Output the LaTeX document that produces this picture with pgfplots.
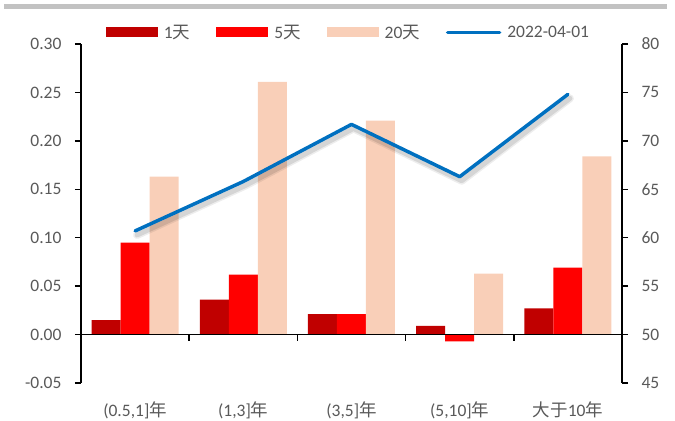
\documentclass[border=0pt]{standalone}
\usepackage{fontspec}
\setmainfont{Carlito}
\newfontfamily\cjk{Noto Sans CJK SC}
\usepackage{pgfplots}
\usepackage{pgfplotstable}
\pgfplotsset{compat=1.18}
\definecolor{dred}{HTML}{C00000}
\definecolor{bred}{HTML}{FF0000}
\definecolor{peach}{HTML}{F9CFB8}
\definecolor{lblue}{HTML}{0070C0}
\definecolor{txt}{HTML}{595959}
\pgfplotsset{barleg/.style={legend image code/.code={\fill[##1] (0bp,-5bp) rectangle (52bp,5bp);}}}

\pgfplotstableread{
x d1 d5 d20 line
0 0.015 0.095 0.163 60.7
1 0.036 0.062 0.261 65.8
2 0.021 0.021 0.221 71.7
3 0.009 -0.007 0.063 66.3
4 0.027 0.069 0.184 74.8
}\data

\newcommand{\lbl}{\fontsize{17.5bp}{20bp}\selectfont}
\begin{document}
\begin{tikzpicture}
\useasboundingbox (-81bp,-38bp) rectangle (594bp,383bp);
\fill[black!24] (-77bp,374bp) rectangle (586bp,379bp);
\begin{axis}[
  at={(0,0)}, anchor=south west, scale only axis,
  width=541bp, height=339bp,
  xmin=-0.5, xmax=4.5, ymin=-0.05, ymax=0.30,
  axis y line*=left, axis x line*=bottom,
  x axis line style={draw=none},
  xtick=data, xtick style={draw=none},
  xticklabels={{(0.5,1]{\cjk 年}},{(1,3]{\cjk 年}},{(3,5]{\cjk 年}},{(5,10]{\cjk 年}},{{\cjk 大于}10{\cjk 年}}},
  x tick label style={yshift=-9bp},
  ytick={-0.05,0,0.05,0.10,0.15,0.20,0.25,0.30},
  y tick label style={/pgf/number format/fixed, /pgf/number format/fixed zerofill, /pgf/number format/precision=2, xshift=-10bp},
  /pgf/number format/assume math mode=true,
  tick align=outside, major tick length=6bp,
  y axis line style={line width=1.5bp},
  ytick style={line width=1.5bp, black},
  tick label style={font=\lbl, text=txt},
  ybar=0pt, bar width=29bp,
  legend columns=4,
  legend style={draw=none, fill=none, at={(0.5,1)}, anchor=center, yshift=11.5bp, xshift=-3bp,
    font=\lbl, text=txt, inner xsep=0pt,
    /tikz/every odd column/.append style={column sep=4bp},
    /tikz/every even column/.append style={column sep=24bp}},
  clip=false,
]
\addplot[fill=dred, draw=none, barleg] table[x=x, y=d1] {\data};
\addlegendentry{1{\cjk 天}}
\addplot[fill=bred, draw=none, barleg] table[x=x, y=d5] {\data};
\addlegendentry{5{\cjk 天}}
\addplot[fill=peach, draw=none, barleg] table[x=x, y=d20] {\data};
\addlegendentry{20{\cjk 天}}
\addlegendimage{legend image code/.code={\draw[lblue, line width=3.5bp, line cap=round] (0bp,0bp) -- (52bp,0bp);}}
\addlegendentry{2022-04-01}
\draw[line width=1.5bp] (axis cs:-0.5,0) -- (axis cs:4.5,0);
\draw[line width=1.5bp] (axis cs:0.5,0) -- ([yshift=-6bp]axis cs:0.5,0);
\draw[line width=1.5bp] (axis cs:1.5,0) -- ([yshift=-6bp]axis cs:1.5,0);
\draw[line width=1.5bp] (axis cs:2.5,0) -- ([yshift=-6bp]axis cs:2.5,0);
\draw[line width=1.5bp] (axis cs:3.5,0) -- ([yshift=-6bp]axis cs:3.5,0);
\end{axis}
\begin{axis}[
  at={(0,0)}, anchor=south west, scale only axis,
  width=541bp, height=339bp,
  xmin=-0.5, xmax=4.5, ymin=45, ymax=80,
  axis y line*=right, axis x line=none,
  ytick={45,50,...,80},
  /pgf/number format/assume math mode=true,
  tick align=outside, major tick length=6bp,
  y axis line style={line width=1.5bp},
  ytick style={line width=1.5bp, black},
  y tick label style={xshift=10bp},
  tick label style={font=\lbl, text=txt},
  clip=false,
]
\addplot[black, opacity=0.07, line width=8bp, line cap=round, line join=round, shift={(2bp,-4bp)}] table[x=x, y=line] {\data};
\addplot[black, opacity=0.10, line width=5bp, line cap=round, line join=round, shift={(2bp,-4bp)}] table[x=x, y=line] {\data};
\addplot[lblue, line width=3.5bp, line cap=round, line join=round] table[x=x, y=line] {\data};
\end{axis}
\end{tikzpicture}
\end{document}
